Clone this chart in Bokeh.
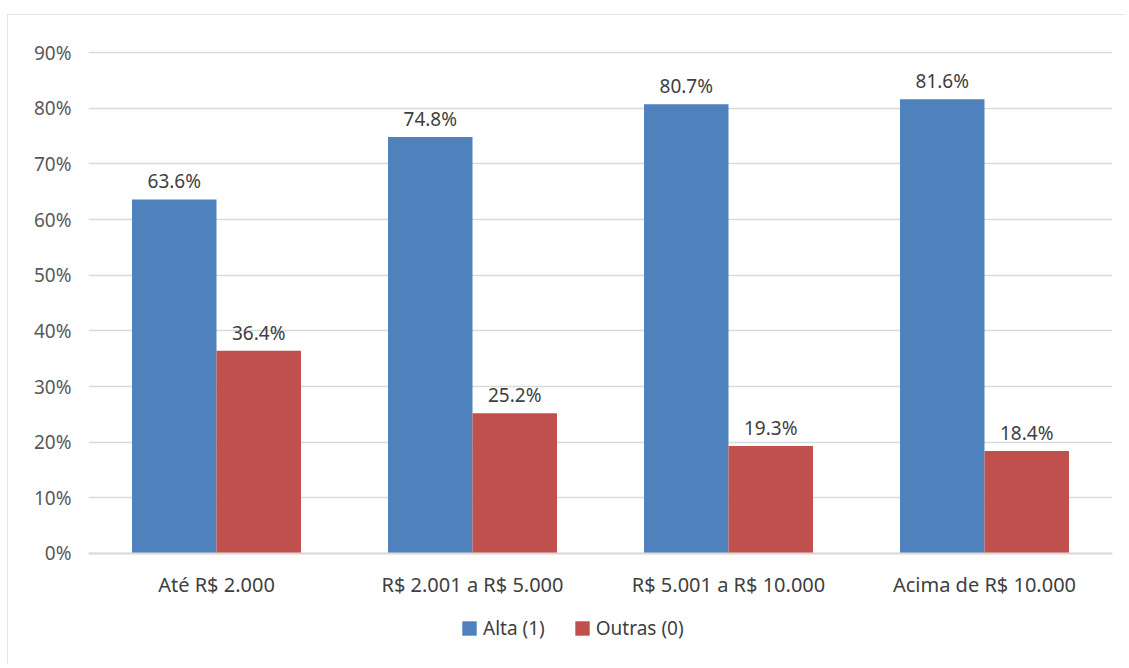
from bokeh.plotting import figure
from bokeh.models import ColumnDataSource, LabelSet, Legend, LegendItem, PrintfTickFormatter, FactorRange, Range1d, FixedTicker
from bokeh.core.properties import value
from bokeh.transform import dodge
from bokeh.embed import file_html
from bokeh.resources import INLINE

categories = ["Até R$ 2.000", "R$ 2.001 a R$ 5.000", "R$ 5.001 a R$ 10.000", "Acima de R$ 10.000"]
alta = [63.6, 74.8, 80.7, 81.6]
outras = [36.4, 25.2, 19.3, 18.4]
series_names = ["Alta (1)", "Outras (0)"]
y_ticks = [0, 10, 20, 30, 40, 50, 60, 70, 80, 90]

FONT = "Noto Sans"
BLUE = "#4F81BD"
RED = "#C0504D"

src = ColumnDataSource(dict(
    cat=categories,
    alta=alta,
    outras=outras,
    alta_lbl=[f"{v:.1f}%" for v in alta],
    outras_lbl=[f"{v:.1f}%" for v in outras],
))

# frame extends below the zero line so that the legend can sit inside it
p = figure(x_range=FactorRange(*categories), y_range=Range1d(-20.12, 90.18),
           width=1118, height=650, output_backend="svg", toolbar_location=None,
           min_border_left=80, min_border_right=14, min_border_top=36, min_border_bottom=0)

r1 = p.vbar(x=dodge("cat", -0.165, range=p.x_range), top="alta", width=0.33,
            source=src, fill_color=BLUE, line_color=None)
r2 = p.vbar(x=dodge("cat", 0.165, range=p.x_range), top="outras", width=0.33,
            source=src, fill_color=RED, line_color=None)

for col, lbl, off in (("alta", "alta_lbl", -0.165), ("outras", "outras_lbl", 0.165)):
    p.add_layout(LabelSet(x=dodge("cat", off, range=p.x_range), y=col, text=lbl, source=src,
                          text_align="center", text_baseline="bottom", y_offset=5,
                          text_font=value(FONT), text_font_size=value("19px"),
                          text_color=value("#404040")))

p.yaxis.ticker = FixedTicker(ticks=y_ticks)
p.yaxis.formatter = PrintfTickFormatter(format="%d%%")
p.yaxis.axis_line_color = None
p.yaxis.major_tick_line_color = None
p.yaxis.minor_tick_line_color = None
p.yaxis.major_label_standoff = 11
p.yaxis.major_label_text_font = FONT
p.yaxis.major_label_text_font_size = "19px"
p.yaxis.major_label_text_color = "#595959"

p.xaxis.fixed_location = 0
p.xaxis.axis_line_color = "#d9d9d9"
p.xaxis.axis_line_width = 2
p.xaxis.major_tick_line_color = None
p.xaxis.minor_tick_line_color = None
p.xaxis.major_label_standoff = 12
p.xaxis.major_label_text_font = FONT
p.xaxis.major_label_text_font_size = "20px"
p.xaxis.major_label_text_color = "#404040"

p.xgrid.grid_line_color = None
p.ygrid.grid_line_color = "#d9d9d9"
p.ygrid.grid_line_width = 1.5
p.outline_line_color = None

legend = Legend(items=[LegendItem(label=series_names[0], renderers=[r1]),
                       LegendItem(label=series_names[1], renderers=[r2])],
                orientation="horizontal", location=(372, 24),
                label_text_font=FONT, label_text_font_size="19px", label_text_color="#404040",
                glyph_width=18, glyph_height=18, spacing=28, label_standoff=5,
                border_line_color=None, background_fill_alpha=0, margin=0, padding=6)
p.add_layout(legend)

p.styles = {"margin-left": "7px", "margin-top": "14px",
            "border-top": "1px solid #e6e6e6", "border-left": "1px solid #e6e6e6"}

open("out.html", "w").write(file_html(p, INLINE))
